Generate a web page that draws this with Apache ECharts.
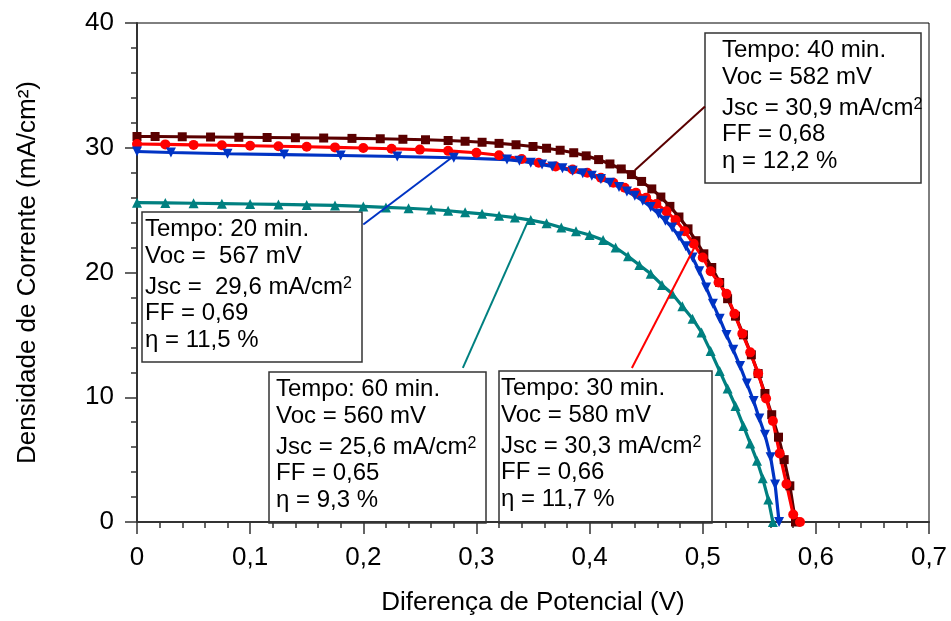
<!DOCTYPE html>
<html>
<head>
<meta charset="utf-8">
<script src="https://cdn.jsdelivr.net/npm/echarts@6/dist/echarts.min.js"></script>
<style>html,body{margin:0;padding:0;background:#fff;}#c{width:951px;height:621px;}</style>
</head>
<body>
<div id="c"></div>
<script>
// ---- data (V in volts, J in mA/cm2) ----
const v40 = [0, 0.016, 0.04, 0.065, 0.09, 0.115, 0.14, 0.165, 0.19, 0.215, 0.235, 0.255, 0.275, 0.29, 0.305, 0.32, 0.335, 0.35, 0.362, 0.374, 0.386, 0.397, 0.408, 0.418, 0.428, 0.437, 0.446, 0.455, 0.463, 0.471, 0.479, 0.487, 0.494, 0.501, 0.508, 0.515, 0.522, 0.529, 0.536, 0.543, 0.549, 0.555, 0.561, 0.567, 0.572, 0.577, 0.582];
const j40 = [30.9, 30.9, 30.88, 30.86, 30.84, 30.82, 30.8, 30.78, 30.75, 30.72, 30.68, 30.64, 30.58, 30.52, 30.44, 30.35, 30.24, 30.1, 29.96, 29.8, 29.6, 29.35, 29.05, 28.7, 28.3, 27.85, 27.3, 26.7, 26.05, 25.3, 24.45, 23.5, 22.55, 21.5, 20.4, 19.2, 17.9, 16.5, 15.0, 13.4, 11.9, 10.3, 8.6, 6.8, 5.0, 2.9, 0];

const v30 = [0, 0.025, 0.05, 0.075, 0.1, 0.125, 0.15, 0.175, 0.2, 0.225, 0.25, 0.275, 0.3, 0.32, 0.34, 0.355, 0.37, 0.385, 0.398, 0.41, 0.421, 0.431, 0.441, 0.45, 0.459, 0.468, 0.476, 0.484, 0.492, 0.5, 0.507, 0.514, 0.521, 0.528, 0.535, 0.542, 0.549, 0.556, 0.562, 0.568, 0.574, 0.58, 0.586];
const j30 = [30.3, 30.27, 30.23, 30.2, 30.16, 30.12, 30.08, 30.03, 29.98, 29.92, 29.85, 29.75, 29.6, 29.4, 29.1, 28.8, 28.5, 28.25, 28.0, 27.6, 27.2, 26.8, 26.4, 26.0, 25.5, 24.9, 24.2, 23.3, 22.3, 21.2, 20.1, 19.2, 18.3, 16.7, 15.1, 13.6, 11.9, 9.9, 8.1, 5.5, 3.05, 0.6, 0];

const v20 = [0, 0.03, 0.08, 0.13, 0.18, 0.23, 0.28, 0.327, 0.338, 0.348, 0.358, 0.367, 0.376, 0.385, 0.394, 0.402, 0.41, 0.418, 0.426, 0.433, 0.44, 0.447, 0.454, 0.461, 0.467, 0.473, 0.479, 0.485, 0.491, 0.497, 0.503, 0.509, 0.515, 0.521, 0.527, 0.533, 0.539, 0.545, 0.55, 0.555, 0.56, 0.564, 0.5675];
const j20 = [29.7, 29.62, 29.52, 29.45, 29.38, 29.3, 29.2, 29.05, 28.95, 28.8, 28.65, 28.5, 28.35, 28.15, 27.95, 27.75, 27.5, 27.2, 26.85, 26.5, 26.15, 25.75, 25.25, 24.7, 24.15, 23.6, 22.9, 22.1, 21.2, 20.1, 18.8, 17.5, 16.3, 15.0, 13.8, 12.5, 11.1, 9.7, 8.3, 7.0, 5.2, 3.0, 0];

const v60 = [0, 0.025, 0.05, 0.075, 0.1, 0.125, 0.15, 0.175, 0.2, 0.22, 0.24, 0.26, 0.275, 0.29, 0.305, 0.32, 0.334, 0.348, 0.362, 0.375, 0.388, 0.4, 0.412, 0.423, 0.434, 0.444, 0.454, 0.464, 0.473, 0.482, 0.491, 0.499, 0.507, 0.515, 0.522, 0.529, 0.536, 0.542, 0.548, 0.553, 0.558, 0.562];
const j60 = [25.6, 25.58, 25.55, 25.52, 25.49, 25.46, 25.42, 25.38, 25.3, 25.22, 25.15, 25.05, 24.95, 24.82, 24.7, 24.55, 24.4, 24.2, 23.95, 23.6, 23.3, 23.0, 22.6, 22.0, 21.3, 20.6, 19.9, 19.0, 18.3, 17.3, 16.3, 15.2, 13.7, 12.1, 10.7, 9.3, 7.7, 6.3, 4.9, 3.5, 1.8, 0];

// leader lines: [curve point, box point] in data units
const lead40 = [[0.440, 28.2], [0.502, 33.3]];
const lead20 = [[0.278, 29.2], [0.2, 23.85]];
const lead60 = [[0.3455, 24.1], [0.288, 12.35]];
const lead30 = [[0.4932, 22.1], [0.4374, 12.35]];

const xTickLabels = ['0', '0,1', '0,2', '0,3', '0,4', '0,5', '0,6', '0,7'];
const yTickLabels = ['0', '10', '20', '30', '40'];

const box40 = ['Tempo: 40 min.', 'Voc = 582 mV', 'Jsc = 30,9 mA/cm', 'FF = 0,68', 'η = 12,2 %'];
const box20 = ['Tempo: 20 min.', 'Voc =  567 mV', 'Jsc =  29,6 mA/cm', 'FF = 0,69', 'η = 11,5 %'];
const box60 = ['Tempo: 60 min.', 'Voc = 560 mV', 'Jsc = 25,6 mA/cm', 'FF = 0,65', 'η = 9,3 %'];
const box30 = ['Tempo: 30 min.', 'Voc = 580 mV', 'Jsc = 30,3 mA/cm', 'FF = 0,66', 'η = 11,7 %'];

const xTitle = 'Diferença de Potencial (V)';
const yTitle = 'Densidade de Corrente (mA/cm²)';

// ---- styling / layout ----
const FONT = '"Liberation Sans", Arial, sans-serif';
const C40 = '#5a0000', C30 = '#ff0000', C20 = '#0033c4', C60 = '#008080';

function pairs(v, j) { return v.map((x, i) => [x, j[i]]); }

function leader(seg, color) {
  return {
    silent: true, symbol: ['none', 'none'], animation: false,
    label: { show: false },
    lineStyle: { color: color, width: 2, type: 'solid' },
    emphasis: { disabled: true },
    data: [[{ coord: seg[0] }, { coord: seg[1] }]]
  };
}

function series(name, v, j, color, symbol, size, rotate, seg) {
  return {
    name: name, type: 'line', data: pairs(v, j),
    symbol: symbol, symbolSize: size, symbolRotate: rotate || 0,
    showSymbol: true, showAllSymbol: true,
    lineStyle: { color: color, width: 3.2 },
    itemStyle: { color: color, borderWidth: 0 },
    animation: false, clip: false,
    markLine: leader(seg, color)
  };
}

const lineOffsets = [17, 44.5, 75.5, 101.5, 128.5];
function boxGraphic(lines, x, y, w, h, padLeft) {
  const children = [{
    type: 'rect', shape: { x: 0, y: 0, width: w, height: h },
    style: { fill: '#fff', stroke: '#333', lineWidth: 1.5 }
  }];
  lines.forEach((t, i) => {
    const isJsc = i === 2;
    children.push({
      type: 'text', x: padLeft, y: lineOffsets[i],
      style: {
        text: isJsc ? '{a|' + t + '}{s|2}' : t,
        fontFamily: FONT, fontSize: 24, fill: '#000',
        verticalAlign: 'middle', align: 'left',
        rich: isJsc ? {
          a: { fontFamily: FONT, fontSize: 24, color: '#000' },
          s: { fontFamily: FONT, fontSize: 16, color: '#000', verticalAlign: 'top' }
        } : undefined
      }
    });
  });
  return { type: 'group', x: x, y: y, z: 100, children: children };
}

const chart = echarts.init(document.getElementById('c'), null, { renderer: 'canvas' });
chart.setOption({
  backgroundColor: '#fff',
  animation: false,
  textStyle: { fontFamily: FONT },
  grid: { left: 137, right: 22, top: 23, bottom: 96, show: true, borderColor: '#000', borderWidth: 1, backgroundColor: 'transparent' },
  xAxis: {
    type: 'value', min: 0, max: 0.7, interval: 0.1,
    name: xTitle, nameLocation: 'middle', nameGap: 68,
    nameTextStyle: { fontFamily: FONT, fontSize: 26, color: '#000' },
    axisLine: { show: true, onZero: false, lineStyle: { color: '#333', width: 2 } },
    axisTick: { show: true, inside: false, length: 12, lineStyle: { color: '#333', width: 1.5 } },
    minorTick: { show: true, splitNumber: 5, length: 6, lineStyle: { color: '#333', width: 1.5 } },
    axisLabel: { fontFamily: FONT, fontSize: 26, color: '#000', margin: 23, formatter: (v, i) => xTickLabels[i] },
    splitLine: { show: false }
  },
  yAxis: {
    type: 'value', min: 0, max: 40, interval: 10,
    name: yTitle, nameLocation: 'middle', nameGap: 96, nameRotate: 90,
    nameTextStyle: { fontFamily: FONT, fontSize: 26, color: '#000' },
    axisLine: { show: true, onZero: false, lineStyle: { color: '#333', width: 2 } },
    axisTick: { show: true, inside: false, length: 12, lineStyle: { color: '#333', width: 1.5 } },
    minorTick: { show: true, splitNumber: 5, length: 6, lineStyle: { color: '#333', width: 1.5 } },
    axisLabel: { fontFamily: FONT, fontSize: 26, color: '#000', margin: 23, formatter: (v, i) => yTickLabels[i] },
    splitLine: { show: false }
  },
  series: [
    series('40 min', v40, j40, C40, 'rect', 9, 0, lead40),
    series('30 min', v30, j30, C30, 'circle', 10, 0, lead30),
    series('60 min', v60, j60, C60, 'triangle', 10, 0, lead60),
    series('20 min', v20, j20, C20, 'triangle', 10, 180, lead20)
  ],
  graphic: [
    boxGraphic(box40, 705, 33, 216, 150, 17),
    boxGraphic(box20, 142, 212, 220, 150, 3),
    boxGraphic(box60, 269, 372, 217, 151, 7),
    boxGraphic(box30, 499, 371, 213, 152, 2)
  ]
});
</script>
</body>
</html>
